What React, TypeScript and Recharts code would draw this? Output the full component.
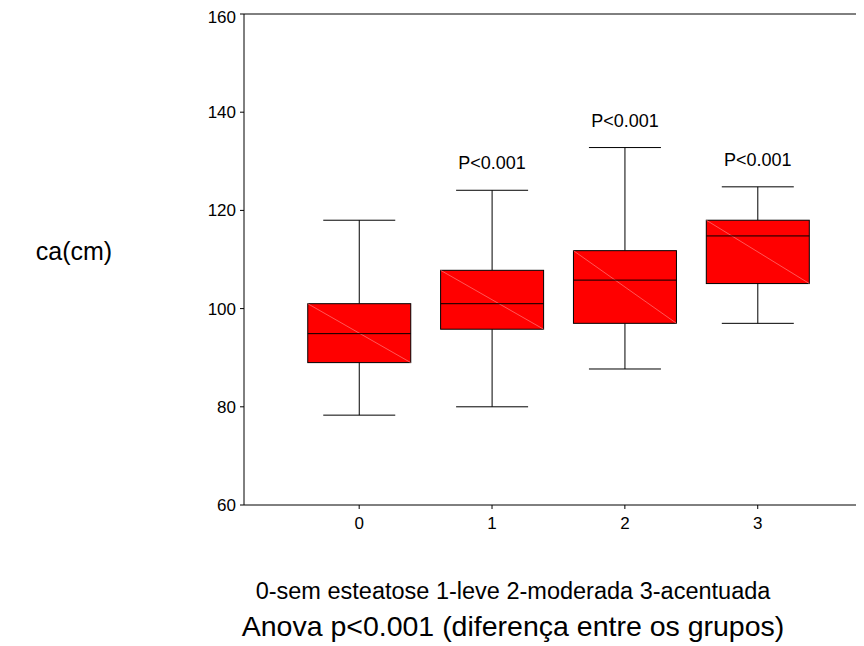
import React from "react";
import { ComposedChart, Bar, XAxis, YAxis, ReferenceLine, LabelList } from "recharts";

const categories = [0, 1, 2, 3];
const lowWhisker = [78.3, 80, 87.7, 97];
const q1 = [89, 95.8, 97, 105.1];
const median = [94.9, 101, 105.8, 114.8];
const q3 = [101, 107.8, 111.8, 118];
const highWhisker = [118, 124.1, 132.8, 124.8];
const pLabels = ["", "P<0.001", "P<0.001", "P<0.001"];
const yTicks = [60, 80, 100, 120, 140, 160];
const xTicks = [0, 1, 2, 3];

const data = categories.map((c, i) => ({
  x: c,
  range: [lowWhisker[i], highWhisker[i]],
  low: lowWhisker[i],
  q1: q1[i],
  median: median[i],
  q3: q3[i],
  high: highWhisker[i],
  label: pLabels[i],
}));

const FONT = "'Liberation Sans', Arial, sans-serif";

const BoxShape = (props: any) => {
  const { x, y, width, height, payload } = props;
  const top = Math.min(y, y + height);
  const h = Math.abs(height);
  const { low, high } = payload;
  const pix = (v: number) => top + (h * (high - v)) / (high - low);
  const cx = x + width / 2;
  const capHalf = 36;
  const yHigh = pix(payload.high);
  const yLow = pix(payload.low);
  const yQ3 = pix(payload.q3);
  const yQ1 = pix(payload.q1);
  const yMed = pix(payload.median);
  return (
    <g>
      <line x1={cx} x2={cx} y1={yHigh} y2={yQ3} stroke="#000" strokeWidth={1} />
      <line x1={cx} x2={cx} y1={yQ1} y2={yLow} stroke="#000" strokeWidth={1} />
      <line x1={cx - capHalf} x2={cx + capHalf} y1={yHigh} y2={yHigh} stroke="#000" strokeWidth={1} />
      <line x1={cx - capHalf} x2={cx + capHalf} y1={yLow} y2={yLow} stroke="#000" strokeWidth={1} />
      <rect x={x} y={yQ3} width={width} height={yQ1 - yQ3} fill="#ff0000" stroke="#000" strokeWidth={1} />
      <line x1={x} y1={yQ3} x2={x + width} y2={yQ1} stroke="#ff9090" strokeWidth={0.6} />
      <line x1={x} x2={x + width} y1={yMed} y2={yMed} stroke="#000" strokeWidth={1} />
    </g>
  );
};

const XTick = (props: any) => {
  const { x, y, payload } = props;
  return (
    <text x={x} y={y + 20} textAnchor="middle" fontSize={17} fontFamily={FONT} fill="#000">
      {payload.value}
    </text>
  );
};

const YTick = (props: any) => {
  const { x, y, payload } = props;
  return (
    <text x={x - 4} y={y + 6} textAnchor="end" fontSize={17} fontFamily={FONT} fill="#000">
      {payload.value}
    </text>
  );
};

export default function App() {
  return (
    <div style={{ position: "relative", width: 856, height: 638 }}>
      <ComposedChart
        width={856}
        height={638}
        data={data}
        margin={{ top: 6, right: 0, bottom: 111, left: 0 }}
      >
        <XAxis
          type="number"
          dataKey="x"
          domain={[-0.867, 3.8]}
          ticks={xTicks}
          allowDataOverflow
          height={30}
          tickSize={4}
          tickMargin={0}
          stroke="#000"
          tick={<XTick />}
        />
        <YAxis
          type="number"
          domain={[60, 160]}
          ticks={yTicks}
          allowDataOverflow
          width={236}
          tickSize={4}
          tickMargin={0}
          stroke="#000"
          tick={<YTick />}
        />
        <ReferenceLine y={160} stroke="#000" strokeWidth={1} ifOverflow="extendDomain" />
        <Bar dataKey="range" barSize={103} shape={<BoxShape />} isAnimationActive={false}>
          <LabelList
            dataKey="label"
            position="top"
            offset={21}
            fill="#000"
            style={{ fontSize: 18, fontFamily: FONT }}
          />
        </Bar>
      </ComposedChart>
      <svg
        width={864}
        height={646}
        style={{ position: "absolute", left: -8, top: -8, pointerEvents: "none" }}
      >
        <text x={74} y={260} textAnchor="middle" fontSize={25} fontFamily={FONT} fill="#000">
          ca(cm)
        </text>
        <text x={513} y={599} textAnchor="middle" fontSize={23.5} fontFamily={FONT} fill="#000">
          0-sem esteatose 1-leve 2-moderada 3-acentuada
        </text>
        <text x={513} y={636} textAnchor="middle" fontSize={28.5} fontFamily={FONT} fill="#000">
          Anova p&lt;0.001 (diferença entre os grupos)
        </text>
      </svg>
    </div>
  );
}
